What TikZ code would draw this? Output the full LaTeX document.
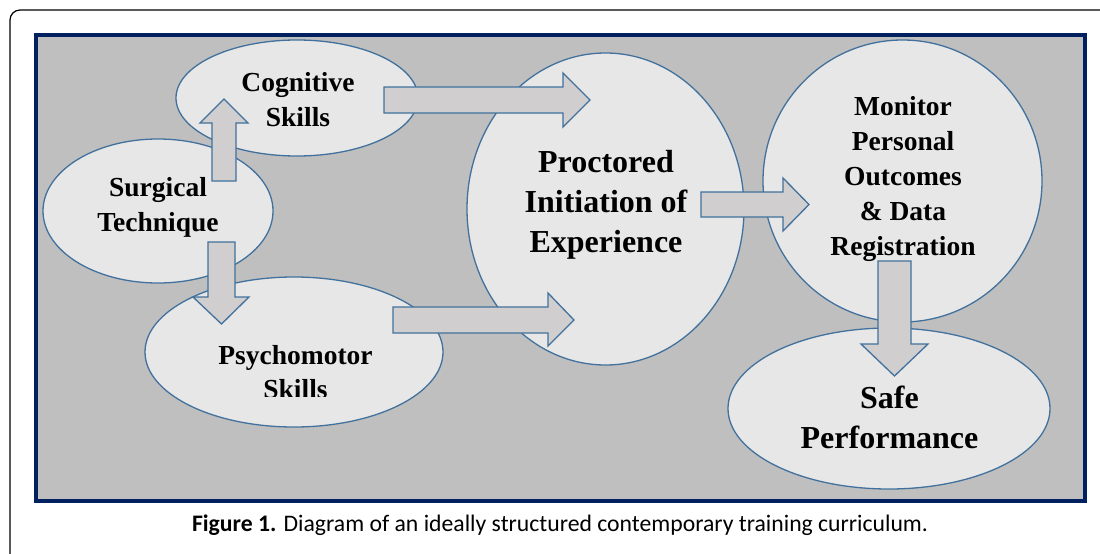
\documentclass[tikz,border=0pt]{standalone}
\usepackage{fontspec}
\setmainfont{Liberation Serif}
\newfontfamily\capfont{Carlito}
\usetikzlibrary{shapes.geometric}
\definecolor{navy}{RGB}{0,32,96}
\definecolor{bggray}{RGB}{191,191,191}
\definecolor{ellfill}{RGB}{231,231,231}
\definecolor{arrfill}{RGB}{208,206,206}
\definecolor{edgeblue}{RGB}{65,113,156}
\begin{document}
\begin{tikzpicture}[x=1pt,y=-1pt,
  bubble/.style={ellipse, draw=edgeblue, fill=ellfill, line width=1.3pt, inner sep=0pt},
  blockarrow/.style={draw=edgeblue, fill=arrfill, line width=1.3pt, line join=miter},
  lbl/.style={font=\bfseries\fontsize{27.5}{35}\selectfont, align=center, inner sep=0pt},
  biglbl/.style={font=\bfseries\fontsize{32}{40}\selectfont, align=center, inner sep=0pt}]
\useasboundingbox (0,0) rectangle (1100,554);
\fill[white] (0,0) rectangle (1100,554);
\draw[black, line width=1.2pt, rounded corners=10pt] (10,560) -- (10,10) -- (1110,10);
\draw[navy, line width=4pt, fill=bggray] (36,35) rectangle (1085,501);
% bubbles
\node[bubble, minimum width=242pt, minimum height=116pt] (cog) at (297,98) {};
\node[bubble, minimum width=230pt, minimum height=144pt] (surg) at (158,211) {};
\node[bubble, minimum width=298pt, minimum height=150pt] (psy) at (294,352) {};
\node[bubble, minimum width=277pt, minimum height=312pt] (proc) at (605.5,209) {};
\node[bubble, minimum width=279pt, minimum height=282pt] (mon) at (902.5,181) {};
\node[bubble, minimum width=322pt, minimum height=161pt] (safe) at (889,408.5) {};
% block arrows
\draw[blockarrow] (212,181) -- (236,181) -- (236,123) -- (248,123) -- (224,99) -- (200,123) -- (212,123) -- cycle;
\draw[blockarrow] (208,242) -- (235,242) -- (235,297) -- (249,297) -- (221.5,324) -- (193,297) -- (208,297) -- cycle;
\draw[blockarrow] (384,87) -- (563,87) -- (563,73) -- (590,100) -- (563,127) -- (563,113) -- (384,113) -- cycle;
\draw[blockarrow] (393,307) -- (548,307) -- (548,293) -- (574,320) -- (548,346) -- (548,333) -- (393,333) -- cycle;
\draw[blockarrow] (701,192) -- (783,192) -- (783,178) -- (809,204.5) -- (783,231) -- (783,217) -- (701,217) -- cycle;
\draw[blockarrow] (878,261) -- (911,261) -- (911,344) -- (928,344) -- (894.5,376) -- (861,344) -- (878,344) -- cycle;
% labels
\node[lbl] (cogt) at (298,100) {Cognitive\\Skills};
\node[lbl] (surgt) at (158,207.5) {Surgical\\Technique};
\begin{scope}
\clip (0,0) rectangle (1100,396.5);
\node[lbl, font=\bfseries\fontsize{27.5}{34}\selectfont] (psyt) at (295.5,372.5) {Psychomotor\\Skills};
\end{scope}
\node[biglbl] (proct) at (606,205) {Proctored\\Initiation of\\Experience};
\node[lbl, font=\bfseries\fontsize{27.5}{34.8}\selectfont] (mont) at (903,179) {Monitor\\Personal\\Outcomes\\\& Data\\Registration};
\node[biglbl] (safet) at (889.5,417) {Safe\\Performance};
\node[font=\capfont\fontsize{23.7}{28}\selectfont, anchor=base, inner sep=0pt] (cap) at (560,531) {\textbf{Figure 1.} Diagram of an ideally structured contemporary training curriculum.};
\end{tikzpicture}
\end{document}
